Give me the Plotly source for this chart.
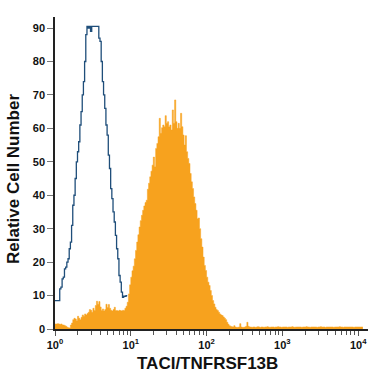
import plotly.graph_objects as go

# Histogram channels: 64 channels per decade, channel i spans [10^(i/64), 10^((i+1)/64)]
CHANNELS_PER_DECADE = 64

# Isotype control (open blue outline) counts, channels 0..60
control_counts = [
    8.5, 8.5, 8.5, 8.5, 12.0, 12.5, 15.0, 15.5, 18.0, 18.5,
    20.0, 21.0, 24.0, 26.0, 31.0, 37.0, 40.0, 45.0, 50.0, 53.0,
    56.0, 61.0, 65.0, 70.0, 74.0, 80.0, 88.0, 90.5, 90.0, 90.5,
    89.0, 90.5, 90.5, 90.5, 90.5, 90.5, 90.5, 87.0, 86.0, 80.0,
    74.0, 70.0, 66.0, 61.0, 58.0, 52.0, 48.0, 42.0, 39.0, 35.0,
    32.0, 28.0, 24.0, 21.0, 16.0, 14.0, 11.0, 9.5, 9.8, 9.8, 10.0,
]

# TACI/TNFRSF13B stained (filled orange) counts, channels 0..259
stained_counts = [
    1.5, 1.5, 1.6, 1.5, 1.4, 1.5, 1.2, 1.2, 1.0, 0.8,
    0.5, 0.4, 0.3, 1.2, 1.8, 2.8, 3.2, 3.0, 2.5, 3.8,
    3.2, 2.8, 3.5, 4.2, 3.8, 4.5, 4.2, 4.6, 5.0, 5.8,
    5.6, 5.0, 6.2, 5.5, 7.0, 8.3, 7.4, 8.2, 6.6, 5.5,
    6.0, 5.4, 5.8, 7.4, 6.4, 7.3, 6.2, 5.6, 5.4, 5.8,
    6.5, 5.5, 5.5, 5.4, 5.6, 5.5, 5.4, 5.6, 5.5, 6.2,
    6.8, 8.0, 10.5, 13.2, 15.5, 17.4, 18.8, 21.0, 23.5, 26.0,
    28.2, 30.5, 32.4, 34.0, 35.5, 36.8, 37.8, 38.5, 41.8, 43.6,
    45.5, 47.2, 49.0, 51.4, 48.5, 54.0, 55.5, 57.5, 63.0, 58.5,
    60.2, 61.0, 60.5, 63.8, 61.5, 62.0, 60.5, 61.0, 59.5, 65.5,
    61.5, 68.5, 62.0, 60.0, 61.5, 60.0, 64.5, 60.5, 58.0, 55.0,
    57.8, 53.0, 51.0, 49.5, 46.5, 44.0, 42.0, 39.5, 37.5, 35.5,
    33.0, 33.2, 30.0, 27.0, 24.5, 21.5, 19.0, 17.5, 15.5, 14.0,
    13.0, 11.5, 10.0, 8.5, 7.5, 6.5, 5.8, 5.5, 5.0, 4.5,
    4.2, 4.0, 3.6, 3.2, 2.8, 2.0, 1.4, 1.0, 0.8, 0.7,
    0.6, 1.0, 0.6, 0.5, 0.5, 0.6, 1.6, 0.6, 0.5, 0.5,
    0.6, 0.8, 2.0, 0.8, 0.6, 0.6, 0.5, 0.6, 0.6, 0.5,
    0.6, 0.7, 0.6, 0.5, 0.6, 0.6, 0.5, 0.6, 0.6, 0.7,
    0.6, 0.5, 0.6, 0.6, 0.6, 0.5, 0.6, 0.6, 0.7, 0.6,
    0.6, 0.5, 0.6, 0.6, 0.6, 0.6, 0.5, 0.6, 0.6, 0.6,
    0.7, 0.6, 0.5, 0.6, 0.6, 0.6, 0.6, 0.6, 0.5, 0.6,
    0.6, 0.6, 0.7, 0.6, 0.6, 0.5, 0.6, 0.6, 0.6, 0.6,
    0.6, 0.5, 0.6, 0.6, 0.7, 0.6, 0.6, 0.6, 0.5, 0.6,
    0.6, 0.6, 0.6, 0.6, 0.6, 0.5, 0.6, 0.6, 0.6, 0.6,
    0.7, 0.6, 0.6, 0.5, 0.6, 0.6, 0.6, 0.6, 0.6, 0.6,
    0.6, 0.6, 0.5, 0.6, 0.6, 0.6, 0.6, 0.6, 0.6, 0.6,
]

x_tick_values = [1, 10, 100, 1000, 10000]
x_tick_labels = ["10<sup>0</sup>", "10<sup>1</sup>", "10<sup>2</sup>", "10<sup>3</sup>", "10<sup>4</sup>"]
y_tick_values = [0, 10, 20, 30, 40, 50, 60, 70, 80, 90]
x_title = "TACI/TNFRSF13B"
y_title = "Relative Cell Number"


def step_xy(counts):
    xs = [10 ** (i / CHANNELS_PER_DECADE) for i in range(len(counts) + 1)]
    ys = list(counts) + [counts[-1]]
    return xs, ys


minor_vals = [k * 10 ** d for d in range(0, 4) for k in range(2, 10)]

sx, sy = step_xy(stained_counts)
cx, cy = step_xy(control_counts)

fig = go.Figure()
fig.add_trace(go.Scatter(
    x=sx, y=sy, mode="lines", line_shape="hv",
    line=dict(color="#F7A21E", width=0.5), fill="tozeroy", fillcolor="#F7A21E",
    hoverinfo="skip", showlegend=False,
))
fig.add_trace(go.Scatter(
    x=cx, y=cy, mode="lines", line_shape="hv",
    line=dict(color="#1F4E7A", width=1.3),
    hoverinfo="skip", showlegend=False,
))

font_family = "Liberation Sans, Arial, sans-serif"
W = H = 375
L, R, T, B = 55, 7, 17, 46
PW, PH = W - L - R, H - T - B

fig.update_layout(
    width=W, height=H,
    margin=dict(l=L, r=R, t=T, b=B, autoexpand=False),
    plot_bgcolor="white", paper_bgcolor="white",
    font=dict(family=font_family, color="#111111"),
    annotations=[
        dict(text="<b>" + x_title + "</b>", xref="paper", yref="paper",
             x=(207 - L) / PW, y=(H - B - 363) / PH, xanchor="center", yanchor="middle",
             showarrow=False, font=dict(size=17, family=font_family, color="#111111")),
        dict(text="<b>" + y_title + "</b>", xref="paper", yref="paper",
             x=(14 - L) / PW, y=(H - B - 179) / PH, xanchor="center", yanchor="middle",
             textangle=-90, showarrow=False, font=dict(size=17, family=font_family, color="#111111")),
    ],
)
fig.update_xaxes(
    type="log", range=[0, 4.13], automargin=False,
    tickvals=x_tick_values, ticktext=x_tick_labels,
    ticks="outside", ticklen=5, tickwidth=1, tickcolor="#555555",
    minor=dict(tickvals=minor_vals, ticks="outside", ticklen=4, tickwidth=1, tickcolor="#555555"),
    showline=True, linecolor="#222222", linewidth=1.5,
    showgrid=False, zeroline=False,
    tickfont=dict(size=11, family=font_family, color="#111111", weight="bold"),
)
fig.update_yaxes(
    range=[0, 93.3], automargin=False,
    tickvals=y_tick_values,
    ticks="outside", ticklen=6, tickwidth=1, tickcolor="#777777",
    showline=True, linecolor="#222222", linewidth=1.5,
    showgrid=False, zeroline=False,
    tickfont=dict(size=11, family=font_family, color="#111111", weight="bold"),
)

# Remove the browser's default 8px page margin so the 375x375 figure fills the window.
fig.write_html(
    "out.html",
    config={"displayModeBar": False},
    post_script="document.body.style.margin='0px';",
)
